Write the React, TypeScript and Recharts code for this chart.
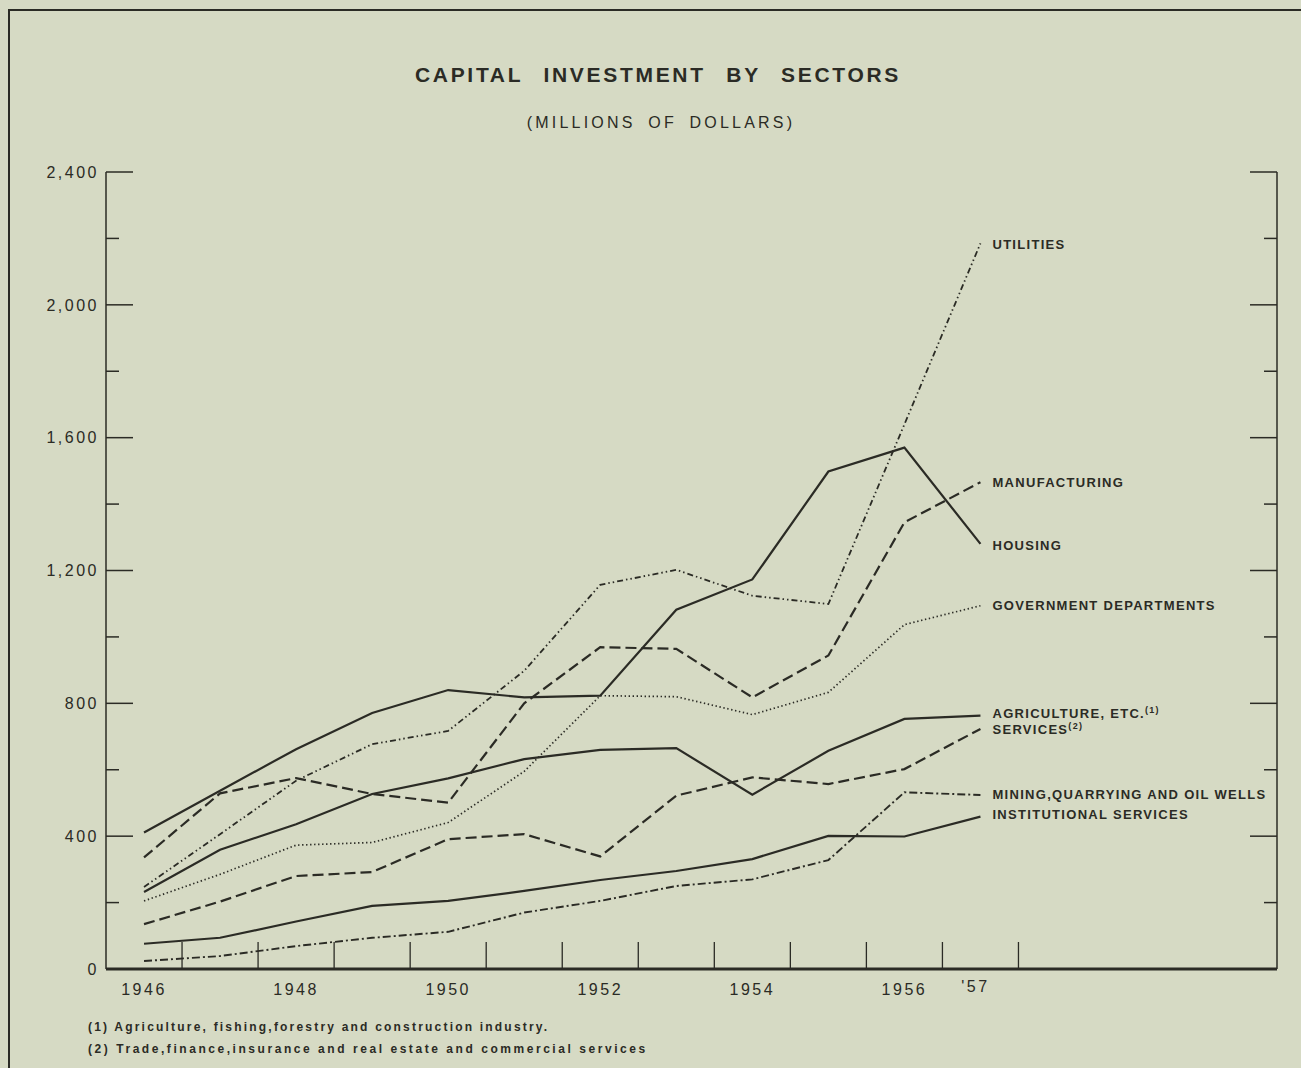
import React from "react";
import { LineChart, Line, XAxis, YAxis, LabelList } from "recharts";

// values, millions of dollars
const years = [1946, 1947, 1948, 1949, 1950, 1951, 1952, 1953, 1954, 1955, 1956, 1957];
const utilities = [247, 406, 567, 677, 717, 898, 1157, 1202, 1124, 1099, 1640, 2185];
const manufacturing = [336, 529, 575, 527, 501, 800, 969, 964, 818, 944, 1345, 1466];
const housing = [411, 537, 662, 771, 840, 818, 823, 1082, 1173, 1498, 1570, 1280];
const government = [205, 285, 373, 381, 441, 595, 823, 820, 766, 833, 1037, 1094];
const agriculture = [232, 359, 436, 527, 574, 632, 660, 665, 525, 657, 753, 763];
const services = [135, 203, 280, 292, 391, 406, 339, 522, 577, 557, 602, 723];
const mining = [24, 39, 69, 94, 112, 170, 205, 250, 270, 328, 532, 524];
const institutional = [76, 94, 143, 190, 205, 235, 268, 295, 331, 401, 399, 459];

const yTicks = [0, 200, 400, 600, 800, 1000, 1200, 1400, 1600, 1800, 2000, 2200, 2400];
const xLabelYears = [1946, 1948, 1950, 1952, 1954, 1956, 1957];
const xLabelTexts = ["1946", "1948", "1950", "1952", "1954", "1956", "'57"];
const xTickMarks = [1946.5, 1947.5, 1948.5, 1949.5, 1950.5, 1951.5, 1952.5, 1953.5, 1954.5, 1955.5, 1956.5, 1957.5];

const INK = "#2b2b25";
const PAPER = "#d6dac4";
const FONT = "'Liberation Sans', Arial, sans-serif";

const data = years.map((year, i) => ({
  year,
  utilities: utilities[i],
  manufacturing: manufacturing[i],
  housing: housing[i],
  government: government[i],
  agriculture: agriculture[i],
  services: services[i],
  mining: mining[i],
  institutional: institutional[i],
}));

const xTicks = [...xLabelYears, ...xTickMarks].sort((a, b) => a - b);

// both y axes share the same fixed 0-2400 domain
const series = [
  { key: "utilities", axis: "right", label: "UTILITIES", note: "", dash: "6 3 1.5 3 1.5 3", width: 1.8, dy: 1 },
  { key: "manufacturing", axis: "left", label: "MANUFACTURING", note: "", dash: "11 5", width: 2.2, dy: 0 },
  { key: "housing", axis: "left", label: "HOUSING", note: "", dash: undefined, width: 2.2, dy: 1 },
  { key: "government", axis: "left", label: "GOVERNMENT DEPARTMENTS", note: "", dash: "1.4 2.6", width: 1.7, dy: 0 },
  { key: "agriculture", axis: "left", label: "AGRICULTURE, ETC.", note: "(1)", dash: undefined, width: 2.2, dy: -2 },
  { key: "services", axis: "left", label: "SERVICES", note: "(2)", dash: "11 5", width: 2.2, dy: 0 },
  { key: "mining", axis: "left", label: "MINING,QUARRYING AND OIL WELLS", note: "", dash: "8 3 2 3", width: 1.9, dy: -1 },
  { key: "institutional", axis: "left", label: "INSTITUTIONAL SERVICES", note: "", dash: undefined, width: 2.2, dy: -2 },
];

function XTick(props: any) {
  const { x, y, payload } = props;
  const li = xLabelYears.indexOf(payload.value);
  if (li >= 0) {
    const text = xLabelTexts[li];
    const raised = text.startsWith("'");
    return (
      <text
        x={raised ? x - 5 : x}
        y={y + (raised ? 23 : 26)}
        textAnchor="middle"
        fill={INK}
        fontSize={16}
        letterSpacing={2.5}
        fontFamily={FONT}
      >
        {text}
      </text>
    );
  }
  return <line x1={x} y1={y} x2={x} y2={y - 27} stroke={INK} strokeWidth={1.3} />;
}

function LeftTick(props: any) {
  const { x, y, payload } = props;
  const major = payload.value % 400 === 0;
  return (
    <g>
      <line x1={x} y1={y} x2={x + (major ? 27 : 13)} y2={y} stroke={INK} strokeWidth={1.5} />
      {major && (
        <text
          x={x - 7}
          y={y}
          dy="0.36em"
          textAnchor="end"
          fill={INK}
          fontSize={16}
          letterSpacing={2.5}
          fontFamily={FONT}
        >
          {payload.value.toLocaleString("en-US")}
        </text>
      )}
    </g>
  );
}

function RightTick(props: any) {
  const { x, y, payload } = props;
  const major = payload.value % 400 === 0;
  return <line x1={x} y1={y} x2={x - (major ? 27 : 13)} y2={y} stroke={INK} strokeWidth={1.5} />;
}

function endLabel(s: (typeof series)[number]) {
  return (props: any) => {
    const { x, y, index } = props;
    if (index !== years.length - 1) return null;
    return (
      <text
        x={x + 12}
        y={y + s.dy}
        dy="0.36em"
        fill={INK}
        fontSize={13}
        fontWeight="bold"
        letterSpacing={1.3}
        fontFamily={FONT}
      >
        {s.label}
        {s.note && (
          <tspan dy={-5} fontSize={9}>
            {s.note}
          </tspan>
        )}
      </text>
    );
  };
}

export default function App() {
  return (
    <div
      style={{
        position: "absolute",
        left: 0,
        top: 0,
        width: 1301,
        height: 1068,
        background: PAPER,
        overflow: "hidden",
      }}
    >
      <div
        style={{
          position: "absolute",
          left: 8,
          top: 9,
          width: 1300,
          height: 1070,
          borderTop: `2px solid ${INK}`,
          borderLeft: `2px solid ${INK}`,
        }}
      />
      <svg width={1301} height={1068} style={{ position: "absolute", left: 0, top: 0 }}>
        <text
          x={658}
          y={82}
          textAnchor="middle"
          fill={INK}
          fontSize={21}
          fontWeight="bold"
          letterSpacing={2.7}
          wordSpacing={12}
          fontFamily={FONT}
        >
          CAPITAL INVESTMENT BY SECTORS
        </text>
        <text
          x={661}
          y={128}
          textAnchor="middle"
          fill={INK}
          fontSize={16}
          letterSpacing={3.2}
          wordSpacing={5}
          fontFamily={FONT}
        >
          (MILLIONS OF DOLLARS)
        </text>
        <text x={88} y={1031} fill={INK} fontSize={12} fontWeight="bold" letterSpacing={2.2} fontFamily={FONT}>
          (1) Agriculture, fishing,forestry and construction industry.
        </text>
        <text x={88} y={1053} fill={INK} fontSize={12} fontWeight="bold" letterSpacing={2.55} fontFamily={FONT}>
          (2) Trade,finance,insurance and real estate and commercial services
        </text>
      </svg>
      <div style={{ position: "absolute", left: 0, top: 0 }}>
        <LineChart
          width={1301}
          height={1068}
          data={data}
          margin={{ top: 172, right: 14, bottom: 69, left: 6 }}
        >
          <XAxis
            dataKey="year"
            type="number"
            domain={[1945.5, 1960.9]}
            ticks={xTicks}
            interval={0}
            height={30}
            tickLine={false}
            tickSize={0}
            tickMargin={0}
            axisLine={{ stroke: INK, strokeWidth: 3 }}
            tick={XTick}
          />
          <YAxis
            yAxisId="left"
            domain={[0, 2400]}
            ticks={yTicks}
            interval={0}
            width={100}
            tickLine={false}
            tickSize={0}
            tickMargin={0}
            axisLine={{ stroke: INK, strokeWidth: 1.5 }}
            tick={LeftTick}
          />
          <YAxis
            yAxisId="right"
            orientation="right"
            domain={[0, 2400]}
            ticks={yTicks}
            interval={0}
            width={10}
            tickLine={false}
            tickSize={0}
            tickMargin={0}
            axisLine={{ stroke: INK, strokeWidth: 1.5 }}
            tick={RightTick}
          />
          {series.map((s) => (
            <Line
              key={s.key}
              yAxisId={s.axis}
              dataKey={s.key}
              stroke={INK}
              strokeWidth={s.width}
              strokeDasharray={s.dash}
              strokeLinejoin="miter"
              dot={false}
              activeDot={false}
              isAnimationActive={false}
            >
              <LabelList dataKey={s.key} content={endLabel(s)} />
            </Line>
          ))}
        </LineChart>
      </div>
    </div>
  );
}
